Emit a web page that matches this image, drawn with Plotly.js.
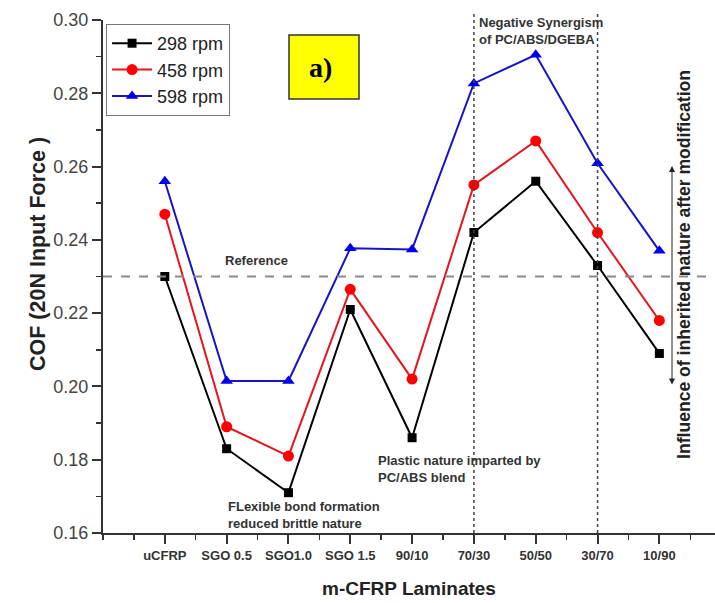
<!DOCTYPE html>
<html>
<head>
<meta charset="utf-8">
<script src="https://cdn.plot.ly/plotly-3.0.1.min.js"></script>
<style>html,body{margin:0;padding:0;background:#fff;}#chart{width:715px;height:603px;}</style>
</head>
<body>
<div id="chart"></div>
<script>
const categories = ["uCFRP", "SGO 0.5", "SGO1.0", "SGO 1.5", "90/10", "70/30", "50/50", "30/70", "10/90"];
const rpm298 = [0.230, 0.183, 0.171, 0.221, 0.186, 0.242, 0.256, 0.233, 0.209];
const rpm458 = [0.247, 0.189, 0.181, 0.2265, 0.202, 0.255, 0.267, 0.242, 0.218];
const rpm598 = [0.256, 0.2015, 0.2015, 0.2377, 0.2374, 0.2827, 0.2905, 0.2609, 0.237];
const seriesNames = ["298 rpm", "458 rpm", "598 rpm"];
const referenceCOF = 0.230;
const yTickVals = [0.16, 0.18, 0.20, 0.22, 0.24, 0.26, 0.28, 0.30];
const yTickText = ["0.16", "0.18", "0.20", "0.22", "0.24", "0.26", "0.28", "0.30"];

const xIdx = categories.map((c, i) => i);
const font = "Arial, 'Liberation Sans', sans-serif";

const traces = [
  {x: xIdx, y: rpm298, name: seriesNames[0], mode: "lines+markers",
   line: {color: "#000000", width: 2}, marker: {symbol: "square", size: 9, color: "#000000"}},
  {x: xIdx, y: rpm458, name: seriesNames[1], mode: "lines+markers",
   line: {color: "#e8141b", width: 2}, marker: {symbol: "circle", size: 11, color: "#ff0000"}},
  {x: xIdx, y: rpm598, name: seriesNames[2], mode: "lines+markers",
   line: {color: "#1515c8", width: 2}, marker: {symbol: "triangle-up", size: 11, color: "#0000ee"}}
];

const axisColor = "#333333";
const annFont = {family: font, size: 13, color: "#333333", weight: "bold"};
const px = v => (v - 103) / 612;   // pixel x -> paper
const py = v => (533 - v) / 513;   // pixel y -> paper

const layout = {
  width: 715, height: 603,
  margin: {l: 103, r: 0, t: 20, b: 70, pad: 0},
  paper_bgcolor: "#ffffff", plot_bgcolor: "#ffffff",
  showlegend: true,
  legend: {x: 0.005, y: py(24), xanchor: "left", yanchor: "top",
    bordercolor: "#777777", borderwidth: 1, bgcolor: "#ffffff",
    font: {family: font, size: 18, color: "#222222"}, itemwidth: 40, tracegroupgap: 0},
  xaxis: {
    range: [-1, 8.9], tickmode: "array", tickvals: xIdx, ticktext: categories,
    showgrid: false, zeroline: false, showline: true, linecolor: axisColor, linewidth: 2,
    ticks: "outside", ticklen: 9, tickwidth: 2, tickcolor: axisColor,
    tickfont: {family: font, size: 13, color: "#333333", weight: "bold"},
    minor: {tickmode: "linear", tick0: -1, dtick: 0.5, ticks: "outside", ticklen: 5, tickwidth: 1.5, tickcolor: axisColor, showgrid: false},
    title: {text: "m-CFRP Laminates", font: {family: font, size: 19, color: "#222222", weight: "bold"}, standoff: 20}
  },
  yaxis: {
    range: [0.16, 0.30], tickmode: "array", tickvals: yTickVals, ticktext: yTickText,
    showgrid: false, zeroline: false, showline: true, linecolor: axisColor, linewidth: 2,
    ticks: "outside", ticklen: 9, tickwidth: 2, tickcolor: axisColor,
    tickfont: {family: font, size: 18, color: "#444444"},
    minor: {tickmode: "linear", tick0: 0.16, dtick: 0.01, ticks: "outside", ticklen: 5, tickwidth: 1.5, tickcolor: axisColor, showgrid: false}
  },
  shapes: [
    {type: "line", xref: "paper", yref: "y", x0: 0, x1: 1, y0: referenceCOF, y1: referenceCOF,
     line: {color: "#8a8a8a", width: 2, dash: "dash"}},
    {type: "line", xref: "x", yref: "paper", x0: 5, x1: 5, y0: 0, y1: 1.015,
     line: {color: "#444444", width: 1.5, dash: "dot"}},
    {type: "line", xref: "x", yref: "paper", x0: 7, x1: 7, y0: 0, y1: 1.015,
     line: {color: "#444444", width: 1.5, dash: "dot"}},
    {type: "rect", xref: "paper", yref: "paper", x0: px(289), x1: px(359), y0: py(99), y1: py(35),
     fillcolor: "#ffff00", line: {color: "#333333", width: 1.5}}
  ],
  annotations: [
    {xref: "paper", yref: "paper", x: px(320), y: py(67), xanchor: "center", yanchor: "middle", text: "a)", showarrow: false,
     font: {family: "'Liberation Serif', 'Times New Roman', serif", size: 28, color: "#000000", weight: "bold"}},
    {xref: "paper", yref: "paper", x: px(24), y: py(254), textangle: -90, showarrow: false,
     text: "COF (20N Input Force )", font: {family: font, size: 21.5, color: "#222222", weight: "bold"}},
    {xref: "x", yref: "y", x: 1.476, y: 0.2345, text: "Reference", showarrow: false, font: annFont},
    {xref: "x", yref: "paper", x: 5.05, y: 1.014, xanchor: "left", yanchor: "top", align: "left",
     text: "Negative Synergism<br>of PC/ABS/DGEBA", showarrow: false, font: annFont},
    {xref: "x", yref: "y", x: 3.41, y: 0.1825, xanchor: "left", yanchor: "top", align: "left",
     text: "Plastic nature imparted by<br>PC/ABS blend", showarrow: false, font: annFont},
    {xref: "x", yref: "y", x: 0.99, y: 0.1697, xanchor: "left", yanchor: "top", align: "left",
     text: "FLexible bond formation<br>reduced brittle nature", showarrow: false, font: annFont},
    {xref: "paper", yref: "paper", x: px(696), y: py(265), textangle: -90,
     text: "Influence of inherited nature after modification", showarrow: false,
     font: {family: font, size: 17.6, color: "#222222", weight: "bold"}},
    {xref: "paper", yref: "paper", x: px(672), y: py(166),
     ax: px(672), ay: py(386), axref: "paper", ayref: "paper",
     text: "", showarrow: true, arrowside: "end+start", arrowhead: 2, arrowsize: 1.2, arrowwidth: 1, arrowcolor: "#222222"}
  ]
};

Plotly.newPlot("chart", traces, layout, {displayModeBar: false, staticPlot: true});
</script>
</body>
</html>
